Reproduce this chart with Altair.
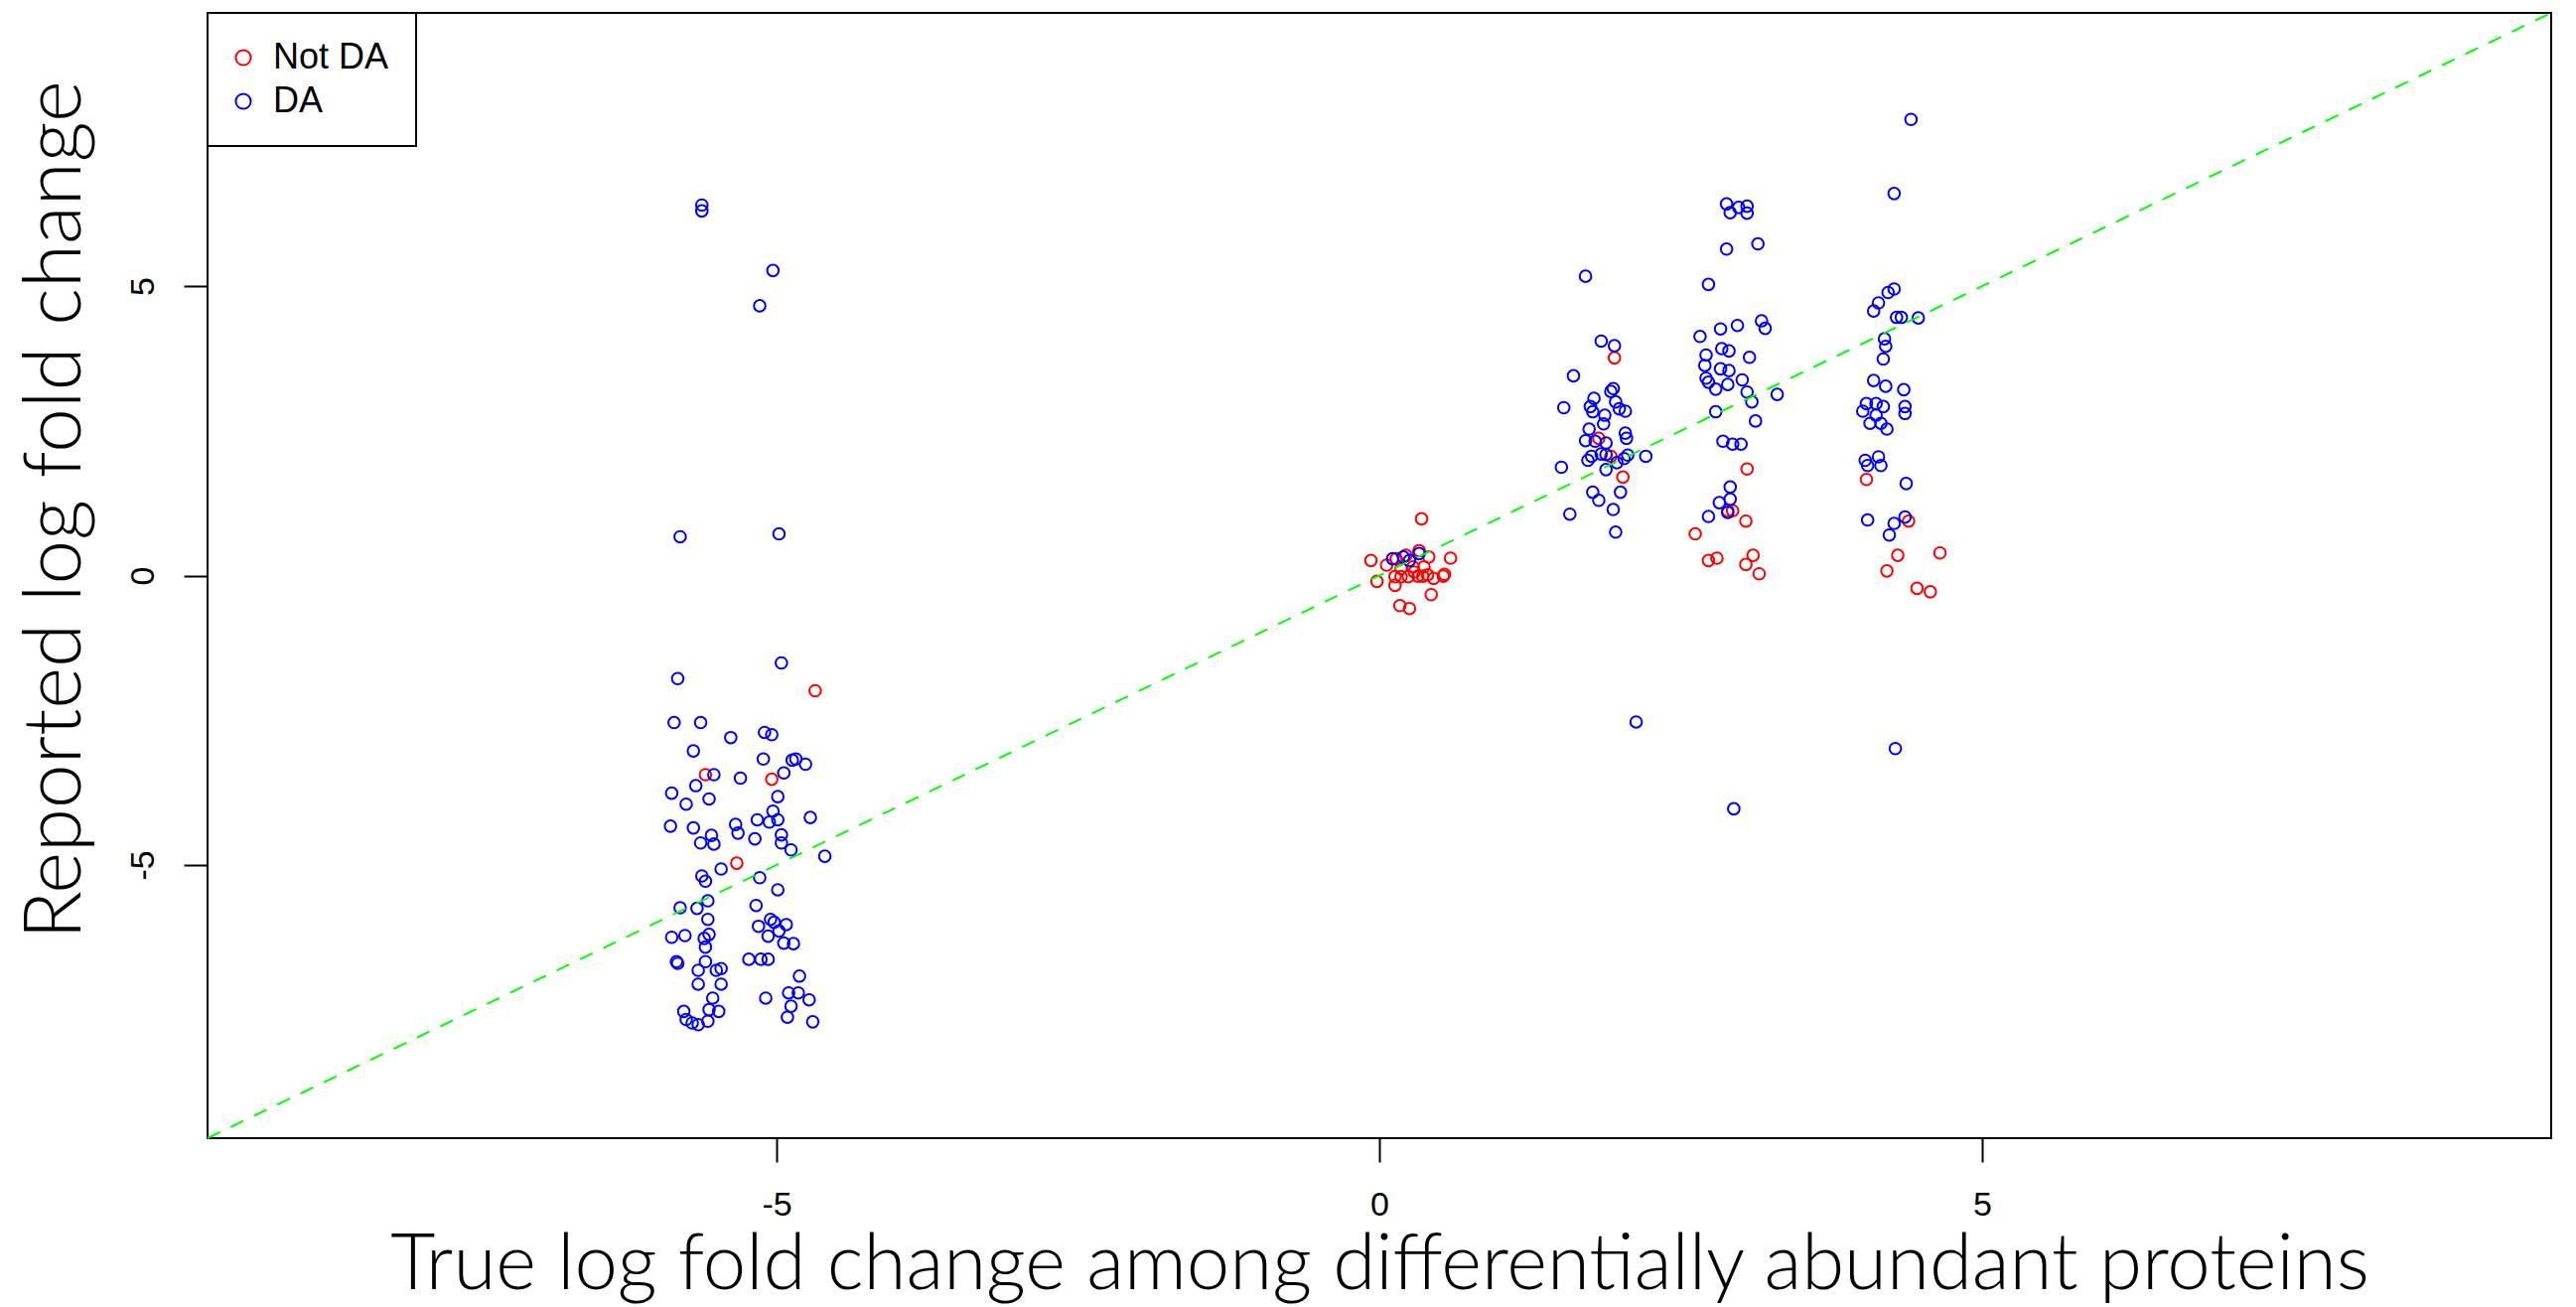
import altair as alt
import pandas as pd

# Proteins that are not differentially abundant: true vs reported log fold change
not_da_x = [-5.59, -5.04, -5.33, -4.68,
            0.35, -0.07, 0.59, -0.02, 0.13, 0.43, 0.17, 0.25, 0.53, 0.54, 0.45, 0.06, 0.41,
            0.33, 0.37, 0.36, 0.32, 0.24, 0.18, 0.13, 0.18, 0.28, 0.22, 0.14, 0.40, 0.29,
            1.95, 1.82, 1.92, 2.02,
            3.05, 2.89, 2.93, 3.04, 2.62, 2.73, 2.80, 3.10, 3.04, 3.15,
            4.04, 4.39, 4.30, 4.65, 4.21, 4.46, 4.57]
not_da_y = [-3.44, -3.52, -4.97, -1.99,
            0.98, 0.26, 0.30, -0.10, -0.17, -0.33, -0.52, -0.57, -0.01, 0.02, -0.05, 0.18, 0.32,
            0.43, 0.15, -0.01, -0.01, -0.02, -0.02, -0.02, 0.12, 0.15, 0.35, 0.29, 0.01, 0.06,
            3.76, 2.37, 2.06, 1.70,
            1.84, 1.12, 1.12, 0.94, 0.72, 0.26, 0.30, 0.35, 0.19, 0.03,
            1.66, 0.94, 0.35, 0.39, 0.08, -0.22, -0.28]

# Differentially abundant proteins
da_x = [-5.62, -5.62, -5.03, -5.14, -5.80, -4.98, -5.82, -4.96,
        -5.85, -5.63, -5.38, -5.10, -5.04, -5.69, -5.11, -4.87, -4.84, -4.76,
        -5.52, -5.30, -4.94, -5.67, -5.87, -5.75, -5.56, -4.99, -5.03, -4.99,
        -5.06, -5.16, -4.72, -5.88, -5.69, -5.34, -5.32, -5.54, -5.63, -5.52,
        -5.18, -4.96, -4.96, -4.88, -4.60, -5.46, -5.62, -5.59, -5.14, -4.99,
        -5.57, -5.80, -5.66, -5.17, -5.57, -5.15, -5.05, -5.02, -4.92, -4.98,
        -5.87, -5.76, -5.56, -5.60, -5.59, -5.07, -4.94, -4.86, -5.83, -5.82,
        -5.59, -5.65, -5.50, -5.46, -5.23, -5.13, -5.07, -5.65, -5.46, -4.81,
        -5.53, -5.09, -4.90, -4.82, -4.73, -5.77, -5.56, -5.48, -4.88, -5.75,
        -5.70, -5.65, -5.57, -4.91, -4.70,
        0.11, 0.25, 0.33, 0.20,
        1.71, 1.84, 1.95, 1.61, 1.94, 1.92, 1.78, 1.96, 1.53, 1.75, 1.77, 1.87,
        1.99, 2.04, 1.86, 1.74, 2.04, 2.05, 1.71, 1.88, 1.79, 1.76, 1.73, 1.84,
        1.88, 2.06, 2.03, 1.97, 1.88, 2.21, 1.51, 1.77, 1.82, 2.00, 1.94, 1.58,
        1.96, 2.13,
        2.88, 2.98, 3.05, 2.91, 3.05, 3.14, 2.88, 2.73, 3.17, 3.20, 2.97, 2.83,
        2.66, 2.84, 2.90, 2.71, 3.07, 2.70, 2.83, 2.90, 2.71, 2.73, 2.79, 2.89,
        3.01, 3.05, 3.09, 3.30, 2.79, 3.12, 2.85, 2.93, 3.00, 2.91, 2.82, 2.91,
        2.73, 2.89, 2.94,
        4.41, 4.27, 4.27, 4.22, 4.14, 4.10, 4.29, 4.33, 4.47, 4.19, 4.20, 4.18,
        4.10, 4.20, 4.35, 4.04, 4.12, 4.18, 4.36, 4.01, 4.36, 4.07, 4.12, 4.16,
        4.21, 4.03, 4.14, 4.05, 4.16, 4.37, 4.05, 4.36, 4.27, 4.23, 4.28]
da_y = [6.40, 6.30, 5.27, 4.66, 0.67, 0.72, -1.78, -1.51,
        -2.54, -2.54, -2.80, -2.71, -2.75, -3.03, -3.17, -3.19, -3.17, -3.26,
        -3.44, -3.50, -3.41, -3.63, -3.76, -3.95, -3.86, -3.82, -4.07, -4.22,
        -4.26, -4.22, -4.18, -4.33, -4.36, -4.30, -4.45, -4.49, -4.62, -4.64,
        -4.55, -4.48, -4.62, -4.74, -4.85, -5.07, -5.19, -5.28, -5.22, -5.43,
        -5.62, -5.74, -5.75, -5.70, -5.94, -6.06, -5.94, -5.99, -6.03, -6.14,
        -6.25, -6.22, -6.20, -6.27, -6.42, -6.23, -6.35, -6.36, -6.67, -6.70,
        -6.67, -6.82, -6.82, -6.79, -6.63, -6.63, -6.63, -7.06, -7.06, -6.92,
        -7.30, -7.30, -7.21, -7.21, -7.33, -7.53, -7.50, -7.53, -7.44, -7.67,
        -7.73, -7.76, -7.70, -7.63, -7.71,
        0.29, 0.26, 0.38, 0.32,
        5.17, 4.05, 3.97, 3.45, 3.23, 3.18, 3.06, 3.00, 2.90, 2.92, 2.83, 2.77,
        2.88, 2.84, 2.62, 2.53, 2.46, 2.37, 2.33, 2.29, 2.32, 2.06, 1.99, 2.10,
        2.09, 2.08, 2.02, 1.95, 1.83, 2.06, 1.87, 1.44, 1.30, 1.44, 1.14, 1.06,
        0.75, -2.53,
        6.42, 6.36, 6.38, 6.27, 6.26, 5.73, 5.64, 5.03, 4.40, 4.27, 4.32, 4.26,
        4.13, 3.92, 3.88, 3.81, 3.77, 3.63, 3.57, 3.54, 3.41, 3.34, 3.22, 3.30,
        3.38, 3.17, 3.00, 3.13, 2.83, 2.67, 2.32, 2.27, 2.27, 1.53, 1.26, 1.32,
        1.02, 1.09, -4.03,
        7.88, 6.60, 4.95, 4.89, 4.71, 4.57, 4.46, 4.46, 4.45, 4.09, 3.96, 3.74,
        3.37, 3.27, 3.21, 2.97, 2.97, 2.92, 2.92, 2.84, 2.80, 2.63, 2.77, 2.63,
        2.53, 1.99, 2.05, 1.90, 1.90, 1.59, 0.96, 1.01, 0.90, 0.70, -2.99]

status_labels = ["Not DA", "DA"]
status_colors = ["#FF0000", "#0000FF"]
axis_ticks = [-5, 0, 5]
axis_limits = [-9.72, 9.72]

points = pd.DataFrame({
    "true_lfc": not_da_x + da_x,
    "reported_lfc": not_da_y + da_y,
    "status": [status_labels[0]] * len(not_da_x) + [status_labels[1]] * len(da_x),
})
identity = pd.DataFrame({"true_lfc": axis_limits, "reported_lfc": axis_limits})

W, H = 2360, 1133

x_scale = alt.Scale(domain=axis_limits, nice=False, zero=False)
y_scale = alt.Scale(domain=axis_limits, nice=False, zero=False)

# plain integer labels with an ASCII hyphen for negatives
tick_text = "'' + datum.value"

x_axis = alt.Axis(
    values=axis_ticks, grid=False, domain=False, labelFlush=False, labelExpr=tick_text,
    tickSize=24, tickWidth=2, tickColor="black",
    labelFont="Liberation Sans", labelFontSize=34, labelColor="black", labelPadding=26,
    title="True log fold change among differentially abundant proteins",
    titleFont="Lato", titleFontWeight=300, titleFontSize=78, titleColor="black",
    titleX=W / 2, titleY=151, titleAlign="center", titleBaseline="alphabetic",
)
y_axis = alt.Axis(
    values=axis_ticks, grid=False, domain=False, labelFlush=False, labelExpr=tick_text,
    tickSize=24, tickWidth=2, tickColor="black",
    labelFont="Liberation Sans", labelFontSize=34, labelColor="black",
    labelAngle=270, labelAlign="center", labelBaseline="alphabetic", labelPadding=31,
    title="Reported log fold change",
    titleFont="Lato", titleFontWeight=300, titleFontSize=80, titleColor="black",
    titleAngle=270, titleX=-129, titleY=500, titleAlign="center", titleBaseline="alphabetic",
)

scatter = alt.Chart(points).mark_point(
    shape="circle", filled=False, size=135, strokeWidth=2, opacity=1
).encode(
    x=alt.X("true_lfc:Q", scale=x_scale, axis=x_axis),
    y=alt.Y("reported_lfc:Q", scale=y_scale, axis=y_axis),
    color=alt.Color(
        "status:N",
        scale=alt.Scale(domain=status_labels, range=status_colors),
        legend=alt.Legend(
            title=None, orient="none", legendX=0, legendY=0,
            padding=27, fillColor="white", strokeColor="black",
            symbolType="circle", symbolSize=230, symbolStrokeWidth=2, symbolOffset=-9,
            labelFont="Liberation Sans", labelFontSize=36, labelColor="black",
            labelOffset=12, rowPadding=8,
        ),
    ),
)

diagonal = alt.Chart(identity).mark_line(
    color="#00FF00", strokeWidth=2, strokeDash=[14, 12]
).encode(
    x=alt.X("true_lfc:Q", scale=x_scale),
    y=alt.Y("reported_lfc:Q", scale=y_scale),
)

chart = alt.layer(scatter, diagonal).properties(
    width=W, height=H,
    padding={"left": 209, "top": 13, "right": 25, "bottom": 170},
    autosize=alt.AutoSizeParams(type="none"),
    background="white",
).configure_view(
    stroke="black", strokeWidth=2
).configure_legend(
    strokeWidth=2
)

chart.save("out.html", embed_options={"renderer": "svg", "actions": False})
